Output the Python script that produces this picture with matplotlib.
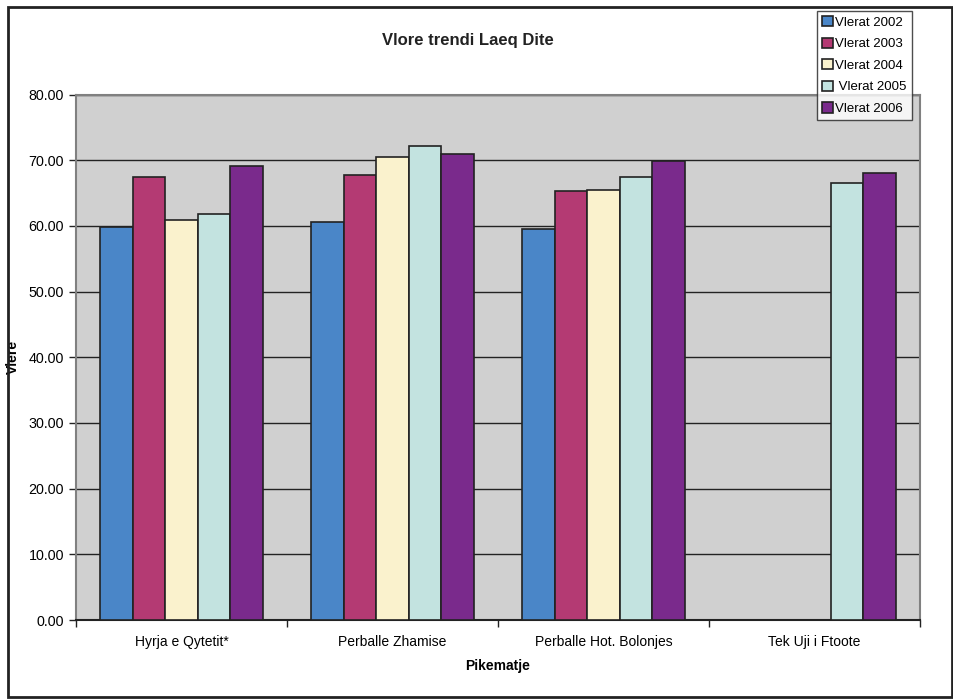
import numpy as np
import matplotlib
matplotlib.use('Agg')
from matplotlib import pyplot as plt
from matplotlib.patches import Rectangle

plt.rcParams['font.family'] = ['Liberation Sans', 'DejaVu Sans']

categories = ['Hyrja e Qytetit*', 'Perballe Zhamise', 'Perballe Hot. Bolonjes', 'Tek Uji i Ftoote']
series_names = ['Vlerat 2002', 'Vlerat 2003', 'Vlerat 2004', ' Vlerat 2005', 'Vlerat 2006']
v2002 = [59.8, 60.6, 59.5, np.nan]
v2003 = [67.4, 67.8, 65.3, np.nan]
v2004 = [60.9, 70.5, 65.5, np.nan]
v2005 = [61.8, 72.2, 67.5, 66.6]
v2006 = [69.1, 70.9, 69.9, 68.1]
yticks = [0, 10, 20, 30, 40, 50, 60, 70, 80]

colors = ['#4A86C8', '#B43A73', '#FAF2CD', '#C3E3E0', '#7A2A8C']
series = [v2002, v2003, v2004, v2005, v2006]

fig = plt.figure(figsize=(9.54, 7.0), dpi=100)
ax = fig.add_axes([76 / 954, 80 / 700, 844 / 954, 525.5 / 700])
ax.set_facecolor('#D0D0D0')

width = 0.1536
centers = np.arange(len(categories)) + 0.5
for i, (vals, name, c) in enumerate(zip(series, series_names, colors)):
    x = centers + (i - 2) * width
    ax.bar(x, vals, width, color=c, edgecolor='#222222', linewidth=1.2,
           label=name, zorder=3)

ax.set_xlim(0, len(categories))
ax.set_ylim(0, 80)
ax.set_yticks(yticks)
ax.set_yticklabels(['%.2f' % t for t in yticks], fontsize=10.3)
ax.yaxis.grid(True, color='#222222', linewidth=1.0, zorder=1)
ax.set_axisbelow(True)

# category boundaries get the tick marks, names sit in between
ax.set_xticks(np.arange(len(categories) + 1))
ax.set_xticklabels([])
ax.set_xticks(centers, minor=True)
ax.set_xticklabels(categories, minor=True, fontsize=10)
ax.tick_params(axis='x', which='minor', length=0, pad=11)
ax.tick_params(axis='both', which='major', length=5, width=1, color='#222222', direction='out')

for s in ['top', 'right', 'left']:
    ax.spines[s].set_color('#808080')
    ax.spines[s].set_linewidth(1.5)
ax.spines['bottom'].set_color('#222222')
ax.spines['bottom'].set_linewidth(1.5)

ax.set_xlabel('Pikematje', fontsize=10, fontweight='bold', labelpad=7)
ax.set_ylabel('Vlere', fontsize=10, fontweight='bold')
ax.yaxis.set_label_coords(-0.066, 0.5)
fig.text(468 / 954, 1 - 41 / 700, 'Vlore trendi Laeq Dite', ha='center', va='center',
         fontsize=12, fontweight='bold', color='#222222')

leg = fig.legend(loc='upper left', bbox_to_anchor=(817 / 954, 1 - 11 / 700),
                 fontsize=9.5, frameon=True, fancybox=False, handlelength=0.8,
                 handleheight=0.8, handletextpad=0.2, labelspacing=0.68,
                 borderpad=0.38, borderaxespad=0)
leg.get_frame().set_edgecolor('#222222')
leg.get_frame().set_linewidth(1.0)
leg.set_zorder(10)

fig.patches.append(Rectangle((8 / 954, 3 / 700), 944 / 954, 690 / 700, transform=fig.transFigure,
                             fill=False, edgecolor='#222222', linewidth=2))

fig.savefig('out.png', dpi=100)
